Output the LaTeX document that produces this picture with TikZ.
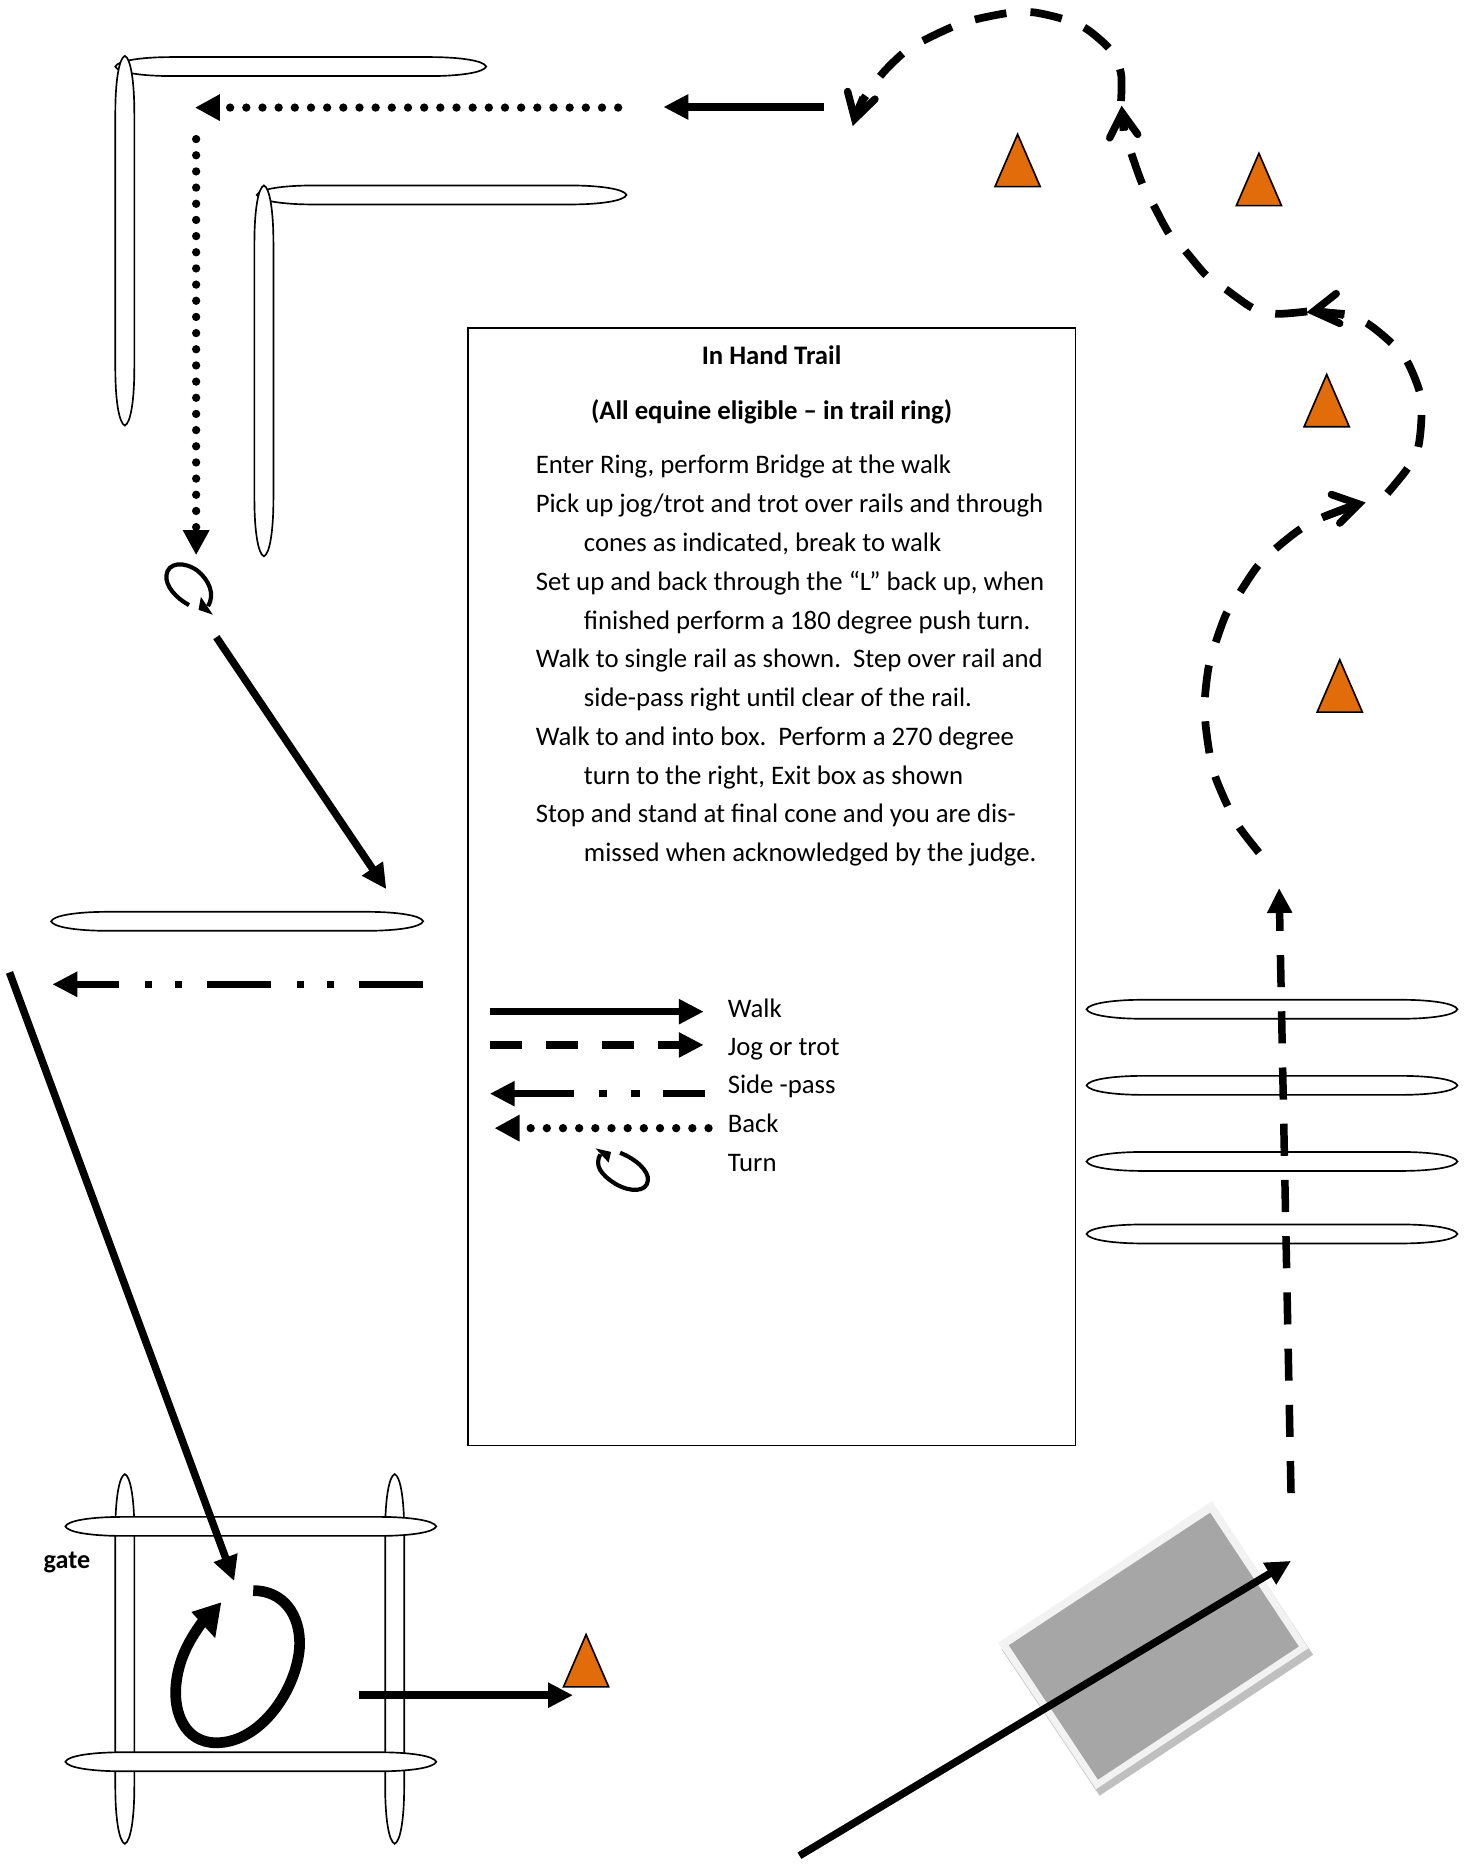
\documentclass[tikz,border=0pt]{standalone}
\usepackage{fontspec}
\setmainfont{Carlito}
\usetikzlibrary{arrows.meta}
\newcommand{\hrailpath}[3]{(#1,#3) .. controls (#1+2,#3-5) and (#1+22,#3-8) .. (#1+48,#3-8) -- (#2-48,#3-8) .. controls (#2-22,#3-8) and (#2-2,#3-5) .. (#2,#3) .. controls (#2-2,#3+5) and (#2-22,#3+8) .. (#2-48,#3+8) -- (#1+48,#3+8) .. controls (#1+22,#3+8) and (#1+2,#3+5) .. (#1,#3) -- cycle}
\newcommand{\vrailpath}[3]{(#1,#2) .. controls (#1+5,#2+2) and (#1+8,#2+22) .. (#1+8,#2+48) -- (#1+8,#3-48) .. controls (#1+8,#3-22) and (#1+5,#3-2) .. (#1,#3) .. controls (#1-5,#3-2) and (#1-8,#3-22) .. (#1-8,#3-48) -- (#1-8,#2+48) .. controls (#1-8,#2+22) and (#1-5,#2+2) .. (#1,#2) -- cycle}
\newcommand{\conepath}[2]{(#1,#2) -- (#1+19,#2+44) -- (#1-19,#2+44) -- cycle}
\definecolor{conecol}{HTML}{E36C0A}
\tikzset{
  railshape/.style={draw=black,fill=white,line width=1.4pt},
  cone/.style={draw=black,fill=conecol,line width=1.4pt,line join=miter},
  walkline/.style={draw=black,line width=6.3pt,-{Triangle[length=21pt,width=20pt]}},
  jogline/.style={draw=black,line width=6.5pt,dash pattern=on 27pt off 20.3pt},
  dotline/.style={draw=black,line width=7pt,line cap=round,dash pattern=on 0pt off 13.6pt,-{Triangle[length=21pt,width=21pt]}},
  barb/.style={draw=black,line width=6.3pt,line cap=round,line join=miter,miter limit=10},
  txt/.style={anchor=base west,inner sep=0pt,font=\fontsize{22.5pt}{27pt}\selectfont},
  headtxt/.style={anchor=base,inner sep=0pt,font=\fontsize{22.5pt}{27pt}\selectfont\bfseries},
  turnline/.style={draw=black,line width=3.5pt},
  turnhead/.style={fill=black}
}
\begin{document}
\begin{tikzpicture}[x=1pt,y=-1pt]
\useasboundingbox (0,0) rectangle (1232,1568);
\fill[white] (0,0) rectangle (1232,1568);
% top-left rails
\path[railshape] \hrailpath{97}{409}{56};
\path[railshape] \vrailpath{105}{47}{358};
\path[railshape] \hrailpath{216}{527}{164};
\path[railshape] \vrailpath{222}{156}{468};
% single rail
\path[railshape] \hrailpath{43}{356}{775};
% box rails
\path[railshape] \vrailpath{105}{1240}{1551};
\path[railshape] \vrailpath{332}{1240}{1551};
\path[railshape] \hrailpath{55}{367}{1284};
\path[railshape] \hrailpath{55}{367}{1482};
% ground poles
\path[railshape] \hrailpath{914}{1226}{849};
\path[railshape] \hrailpath{914}{1226}{913};
\path[railshape] \hrailpath{914}{1226}{977};
\path[railshape] \hrailpath{914}{1226}{1038};
% bridge
\fill[black!25] (1022.6,1268.3) -- (842.6,1387.5) -- (925,1510.5) -- (1104.6,1392) -- cycle;
\fill[black!5] (1019.6,1262.8) -- (839.6,1382) -- (922,1505) -- (1100.6,1386.5) -- cycle;
\fill[black!35] (1018,1272.5) -- (848.6,1384) -- (923.6,1497) -- (1092.5,1385) -- cycle;
% cones
\path[cone] \conepath{856}{113};
\path[cone] \conepath{1059}{129};
\path[cone] \conepath{1116}{315};
\path[cone] \conepath{1127}{555};
\path[cone] \conepath{493}{1375};
% text box
\node[draw=black,line width=1.4pt,fill=white,minimum width=511pt,minimum height=940pt,inner sep=0pt,anchor=north west] (panel) at (393,275.3) {};
\node[headtxt] (title1) at (649,306.6) {In Hand Trail};
\node[headtxt] (title2) at (649,352.8) {(All equine eligible – in trail ring)};
\node[txt] (l1) at (450.5,398.4) {Enter Ring, perform Bridge at the walk};
\node[txt] (l2) at (450.5,431.1) {Pick up jog/trot and trot over rails and through};
\node[txt] (l3) at (491,463.9) {cones as indicated, break to walk};
\node[txt] (l4) at (450.5,496.6) {Set up and back through the “L” back up, when};
\node[txt] (l5) at (491,529.3) {finished perform a 180 degree push turn.};
\node[txt] (l6) at (450.5,561.9) {Walk to single rail as shown.\ \ Step over rail and};
\node[txt] (l7) at (491,594.5) {side-pass right until clear of the rail.};
\node[txt] (l8) at (450.5,627) {Walk to and into box.\ \ Perform a 270 degree};
\node[txt] (l9) at (491,659.6) {turn to the right, Exit box as shown};
\node[txt] (l10) at (450.5,692) {Stop and stand at final cone and you are dis-};
\node[txt] (l11) at (491,724.8) {missed when acknowledged by the judge.};
% legend
\node[txt] (lgwalk) at (612,855.5) {Walk};
\node[txt] (lgjog) at (612,888) {Jog or trot};
\node[txt] (lgside) at (612,920) {Side -pass};
\node[txt] (lgback) at (612,952.6) {Back};
\node[txt] (lgturn) at (612,985.5) {Turn};
\node[txt,font=\fontsize{22pt}{26pt}\selectfont\bfseries] (gate) at (36.5,1319) {gate};
% legend lines
\coordinate (w1) at (412,851); \coordinate (w2) at (592,851);
\coordinate (j1) at (412,879); \coordinate (j2) at (592,879);
\coordinate (s1) at (593,920); \coordinate (s2) at (412,920);
\coordinate (b1) at (596,949); \coordinate (b2) at (416,949);
\draw[walkline] (w1) -- (w2);
\draw[walkline,dash pattern=on 27pt off 20.3pt] (j1) -- (j2);
\draw[walkline,dash pattern=on 35pt off 20pt on 7pt off 20pt on 7pt off 21pt on 100pt] (s1) -- (s2);
\draw[dotline] (b1) -- (b2);
% legend turn
\draw[turnline] (521.6,969.7) .. controls (535,975) and (546,985) .. (545,993) .. controls (544,1003) and (530,1003) .. (518,996) .. controls (505,988) and (500,980) .. (505,971);
\fill[turnhead] (501,966) -- (514,969) -- (512,978) -- cycle;
% top walking arrow
\coordinate (t1) at (693,90); \coordinate (t2) at (558,90);
\draw[walkline] (t1) -- (t2);
% back L
\coordinate (d1) at (520,90.5); \coordinate (d2) at (164,90.5);
\draw[dotline] (d1) -- (d2);
\coordinate (d3) at (165,117); \coordinate (d4) at (165,467);
\draw[dotline] (d3) -- (d4);
% small turn
\draw[turnline] (159,509) .. controls (148,503) and (139,493) .. (140,484) .. controls (141,473) and (155,472) .. (166,480) .. controls (176,488) and (181,500) .. (175,510);
\fill[turnhead] (179,517) -- (167,513) -- (169,502) -- cycle;
% walk to single rail
\coordinate (n1) at (182,536); \coordinate (n2) at (325,748);
\draw[walkline] (n1) -- (n2);
% side-pass
\coordinate (p1) at (356,828); \coordinate (p2) at (44,828);
\draw[walkline,dash pattern=on 54pt off 21pt on 6pt off 19pt on 6pt off 22pt] (p1) -- (p2);
% walk to box
\coordinate (g1) at (8,818); \coordinate (g2) at (197,1330);
\draw[walkline] (g1) -- (g2);
% large turn
\draw[line width=9pt] (213,1338) .. controls (238,1338) and (253,1358) .. (252,1385) .. controls (250,1420) and (220,1466) .. (182,1466) .. controls (155,1466) and (146,1440) .. (148,1418) .. controls (150,1395) and (160,1378) .. (172,1362);
\fill[turnhead] (186,1348) -- (161,1356) -- (181,1378) -- cycle;
% exit
\coordinate (e1) at (302,1426); \coordinate (e2) at (482,1426);
\draw[walkline] (e1) -- (e2);
% bridge line
\coordinate (r1) at (672.5,1561); \coordinate (r2) at (1086,1313);
\draw[walkline] (r1) -- (r2);
% straight jog
\coordinate (q1) at (1086,1256); \coordinate (q2) at (1076,747);
\draw[walkline,dash pattern=on 27pt off 20.3pt] (q1) -- (q2);
% curved jog D
\draw[jogline] plot[smooth] coordinates {(1059,717.2) (1042.7,696.2) (1033,678.6) (1022.5,654) (1017.5,634) (1014,608) (1013.6,587) (1016.7,561) (1022.5,540.8) (1031.5,516.4) (1042.7,498.8) (1057.3,477) (1072,462.4) (1092.5,446) (1111,435.8) (1140,424.5)};
\coordinate (dtip) at (1143,424);
\coordinate (da) at (1120,416); \coordinate (db) at (1127,440); \coordinate (dc) at (1113,435);
\draw[barb] (da) -- (dtip) -- (db);
\draw[barb,line cap=butt] (dc) -- (dtip);
% curved jog C
\draw[jogline] plot[smooth] coordinates {(1167,415) (1184,394) (1193,376) (1195.8,349) (1194,329) (1183.7,304) (1171,289) (1150,272) (1130,265) (1108,262)};
\coordinate (ctip) at (1105,262);
\coordinate (ca) at (1124,247); \coordinate (cb) at (1127,272); \coordinate (cc) at (1131,264);
\draw[barb] (ca) -- (ctip) -- (cb);
\draw[barb,line cap=butt] (cc) -- (ctip);
% curved jog B
\draw[jogline] plot[smooth] coordinates {(1099.6,262) (1073,264) (1053.6,259) (1031.5,243.6) (1015,232) (997,211) (983.7,197) (970.6,173) (961,155) (952,130) (946,110) (944,98)};
\coordinate (btip) at (944,95);
\coordinate (ba) at (933.5,116); \coordinate (bb) at (957,113); \coordinate (bc) at (945,110);
\draw[barb] (ba) -- (btip) -- (bb);
\draw[barb,line cap=butt] (bc) -- (btip);
% curved jog A
\draw[jogline] plot[smooth] coordinates {(943,85) (943,62) (935,43) (915,25) (897,16.8) (871,10.6) (850.5,10.6) (824.5,15.4) (805,21) (781,32) (763,42) (743,61) (726,84) (720,97)};
\coordinate (atip) at (719,100);
\coordinate (aa) at (713,77); \coordinate (ab) at (736,83.4); \coordinate (ac) at (726,82);
\draw[barb] (aa) -- (atip) -- (ab);
\draw[barb,line cap=butt] (ac) -- (atip);
\end{tikzpicture}
\end{document}
